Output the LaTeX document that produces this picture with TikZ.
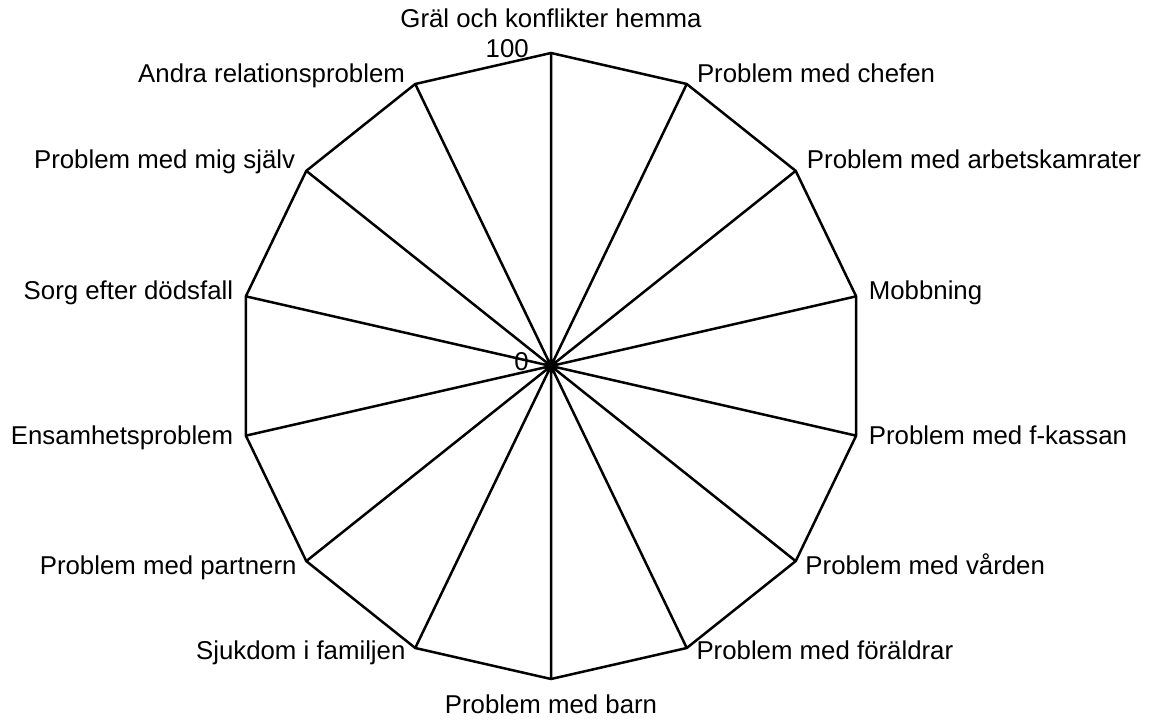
\documentclass[tikz,border=0pt]{standalone}
\usepackage{fontspec}
\setmainfont{Liberation Sans}
\begin{document}
\begin{tikzpicture}[x=0.5pt, y=0.5pt, line width=1.25pt,
        cat label/.style={font=\fontsize{12.9}{15}\selectfont, inner sep=0pt},
        tick label/.style={font=\fontsize{12.9}{15}\selectfont, inner sep=0pt, anchor=base east}]
    \useasboundingbox (-551,-356) rectangle (605,366);
    \coordinate (c) at (0,0);
    \coordinate (v0) at (90:313);
    \coordinate (v1) at (64.29:313);
    \coordinate (v2) at (38.57:313);
    \coordinate (v3) at (12.86:313);
    \coordinate (v4) at (-12.86:313);
    \coordinate (v5) at (-38.57:313);
    \coordinate (v6) at (-64.29:313);
    \coordinate (v7) at (-90:313);
    \coordinate (v8) at (-115.71:313);
    \coordinate (v9) at (-141.43:313);
    \coordinate (v10) at (-167.14:313);
    \coordinate (v11) at (167.14:313);
    \coordinate (v12) at (141.43:313);
    \coordinate (v13) at (115.71:313);
    % spokes and outer ring
    \draw (c) -- (v0) (c) -- (v1) (c) -- (v2) (c) -- (v3) (c) -- (v4) (c) -- (v5) (c) -- (v6)
          (c) -- (v7) (c) -- (v8) (c) -- (v9) (c) -- (v10) (c) -- (v11) (c) -- (v12) (c) -- (v13);
    \draw (v0) -- (v1) -- (v2) -- (v3) -- (v4) -- (v5) -- (v6) -- (v7)
          -- (v8) -- (v9) -- (v10) -- (v11) -- (v12) -- (v13) -- cycle;
    % category labels
    \node[cat label, anchor=base, yshift=12.5pt] (l0) at (v0) {Gräl och konflikter hemma};
    \node[cat label, anchor=base west, xshift=4.5pt, yshift=0.5pt] (l1) at (v1) {Problem med chefen};
    \node[cat label, anchor=base west, xshift=5pt, yshift=1.25pt] (l2) at (v2) {Problem med arbetskamrater};
    \node[cat label, anchor=base west, xshift=5.75pt, yshift=-1.75pt] (l3) at (v3) {Mobbning};
    \node[cat label, anchor=base west, xshift=5.75pt, yshift=-4.25pt] (l4) at (v4) {Problem med f-kassan};
    \node[cat label, anchor=base west, xshift=4.25pt, yshift=-6.5pt] (l5) at (v5) {Problem med vården};
    \node[cat label, anchor=base west, xshift=4.25pt, yshift=-5.5pt] (l6) at (v6) {Problem med föräldrar};
    \node[cat label, anchor=base, yshift=-17pt] (l7) at (v7) {Problem med barn};
    \node[cat label, anchor=base east, xshift=-4.25pt, yshift=-5.5pt] (l8) at (v8) {Sjukdom i familjen};
    \node[cat label, anchor=base east, xshift=-4.25pt, yshift=-6.5pt] (l9) at (v9) {Problem med partnern};
    \node[cat label, anchor=base east, xshift=-5.75pt, yshift=-4.25pt] (l10) at (v10) {Ensamhetsproblem};
    \node[cat label, anchor=base east, xshift=-5.75pt, yshift=-1.75pt] (l11) at (v11) {Sorg efter dödsfall};
    \node[cat label, anchor=base east, xshift=-5pt, yshift=1.25pt] (l12) at (v12) {Problem med mig själv};
    \node[cat label, anchor=base east, xshift=-4.5pt, yshift=0.5pt] (l13) at (v13) {Andra relationsproblem};
    % scale
    \node[tick label] (t0) at (-21,-5) {0};
    \node[tick label] (t100) at (-21,308) {100};
\end{tikzpicture}
\end{document}
